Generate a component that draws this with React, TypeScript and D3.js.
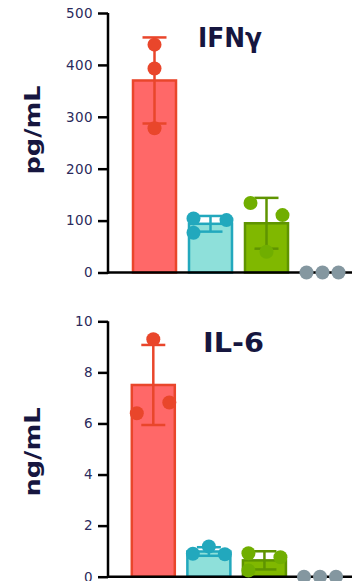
import React, { useEffect, useRef } from 'react';
import * as d3 from 'd3';

// replicate values (3 per group)
const groups = ['red', 'cyan', 'green', 'gray'];
const ifngValues = [
  [439, 393, 278],
  [104, 101, 76.5],
  [134, 110.6, 40],
  [0, 0, 0],
];
const il6Values = [
  [9.3, 6.4, 6.82],
  [0.9, 1.18, 0.88],
  [0.92, 0.76, 0.24],
  [0, 0, 0],
];
const ifngTicks = [0, 100, 200, 300, 400, 500];
const il6Ticks = [0, 2, 4, 6, 8, 10];

const fills = ['#ff6868', '#8ee0da', '#80b800', '#8497a0'];
const strokes = ['#e9462b', '#22a8bd', '#5f9400', '#8497a0'];
const dots = ['#e9462b', '#22a8bd', '#70ae00', '#8497a0'];

// horizontal spread of the dots inside each group
const ifngJitter = [[0, 0, 0], [-17, 16, -17], [-16, 16, 0], [-16, 0, 16]];
const il6Jitter = [[0, -16.5, 16], [-16, 0, 16], [-16, 16, -16], [-16, 0, 16]];

const navy = '#16163f';

function drawPanel(g, opts) {
  const { values, jitter, ticks, top, bottom, x0, x1, title, titleX, titleY, titleLen, unit, unitY } = opts;
  const y = d3.scaleLinear().domain([0, d3.max(ticks)]).range([bottom, top]);
  const x = d3.scalePoint().domain(groups).range([x0, x1]);
  const barW = 43;

  const stats = values.map(v => ({ mean: d3.mean(v), sd: d3.deviation(v) || 0 }));

  // bars
  g.selectAll('.bar').data(groups.slice(0, 3)).join('rect')
    .attr('class', 'bar')
    .attr('x', d => x(d) - barW / 2)
    .attr('width', barW)
    .attr('y', (d, i) => y(stats[i].mean))
    .attr('height', (d, i) => y(0) - y(stats[i].mean))
    .attr('fill', (d, i) => fills[i])
    .attr('stroke', (d, i) => strokes[i])
    .attr('stroke-width', 2.5);

  // error bars (mean ± SD)
  const eb = g.selectAll('.eb').data(groups.slice(0, 3)).join('g').attr('class', 'eb')
    .attr('stroke', (d, i) => strokes[i]).attr('stroke-width', 2.5);
  eb.append('line')
    .attr('x1', d => x(d)).attr('x2', d => x(d))
    .attr('y1', (d, i) => y(stats[i].mean + stats[i].sd))
    .attr('y2', (d, i) => y(stats[i].mean - stats[i].sd));
  eb.append('line')
    .attr('x1', d => x(d) - 12).attr('x2', d => x(d) + 12)
    .attr('y1', (d, i) => y(stats[i].mean + stats[i].sd))
    .attr('y2', (d, i) => y(stats[i].mean + stats[i].sd));
  eb.append('line')
    .attr('x1', d => x(d) - 12).attr('x2', d => x(d) + 12)
    .attr('y1', (d, i) => y(stats[i].mean - stats[i].sd))
    .attr('y2', (d, i) => y(stats[i].mean - stats[i].sd));

  // x axis line
  g.append('line')
    .attr('x1', 108).attr('x2', 352)
    .attr('y1', y(0)).attr('y2', y(0))
    .attr('stroke', '#000').attr('stroke-width', 2.5);

  // dots
  const pts = [];
  values.forEach((v, i) => v.forEach((val, j) => pts.push({ gi: i, val, dx: jitter[i][j] })));
  g.selectAll('.dot').data(pts).join('circle')
    .attr('class', 'dot')
    .attr('cx', d => x(groups[d.gi]) + d.dx)
    .attr('cy', d => y(d.val))
    .attr('r', 7)
    .attr('fill', d => dots[d.gi]);

  // y axis
  const ax = g.append('g').attr('transform', 'translate(108,0)')
    .call(d3.axisLeft(y).tickValues(ticks).tickSize(10).tickSizeOuter(0).tickPadding(5));
  ax.select('.domain').attr('stroke', '#000').attr('stroke-width', 2.5).attr('d', `M0,${y.range()[1]}V${y.range()[0] + 1.25}`);
  ax.selectAll('.tick line').attr('stroke', '#000').attr('stroke-width', 2.5);
  ax.selectAll('.tick text')
    .attr('fill', '#2a2a5c')
    .style('font-family', '"DejaVu Sans", sans-serif')
    .style('font-size', '13.5px')
    .style('letter-spacing', '0.4px');

  // title
  g.append('text')
    .attr('x', titleX).attr('y', titleY)
    .attr('textLength', titleLen).attr('lengthAdjust', 'spacingAndGlyphs')
    .attr('fill', navy)
    .style('font-family', '"DejaVu Sans", sans-serif')
    .style('font-weight', 'bold')
    .style('font-size', '26px')
    .text(title);

  // unit label
  g.append('text')
    .attr('transform', `translate(40,${unitY}) rotate(-90)`)
    .attr('text-anchor', 'middle')
    .attr('textLength', 89).attr('lengthAdjust', 'spacingAndGlyphs')
    .attr('fill', navy)
    .style('font-family', '"DejaVu Sans", sans-serif')
    .style('font-weight', 'bold')
    .style('font-size', '22px')
    .text(unit);
}

export default function App() {
  const ref = useRef(null);

  useEffect(() => {
    const svg = d3.select(ref.current);
    svg.selectAll('*').remove();

    drawPanel(svg.append('g'), {
      values: ifngValues, jitter: ifngJitter, ticks: ifngTicks,
      top: 13, bottom: 272.5, x0: 154.5, x1: 322.5,
      title: 'IFNγ', titleX: 198, titleY: 47, titleLen: 64,
      unit: 'pg/mL', unitY: 130,
    });
    drawPanel(svg.append('g'), {
      values: il6Values, jitter: il6Jitter, ticks: il6Ticks,
      top: 321.3, bottom: 576.7, x0: 153.3, x1: 320,
      title: 'IL-6', titleX: 203, titleY: 351.5, titleLen: 61,
      unit: 'ng/mL', unitY: 452,
    });
  }, []);

  return (
    <svg ref={ref} width={354} height={581}
      style={{ position: 'absolute', left: 0, top: 0, background: '#fff' }} />
  );
}
